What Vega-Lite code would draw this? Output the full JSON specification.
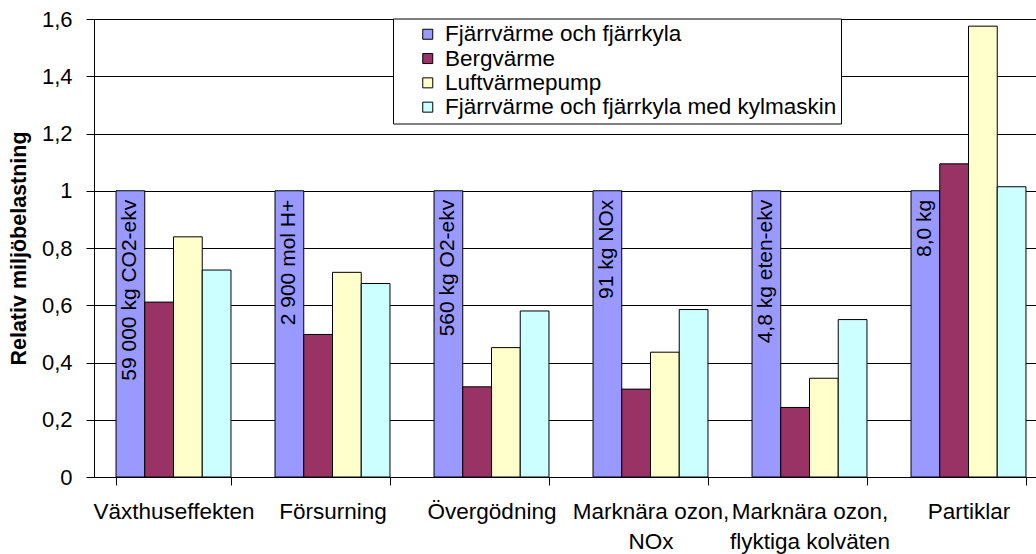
{
  "$schema": "https://vega.github.io/schema/vega-lite/v6.json",
  "width": 942,
  "height": 458,
  "autosize": {"type": "none"},
  "padding": {"left": 94, "top": 19, "right": 0, "bottom": 77},
  "background": "white",
  "config": {"view": {"stroke": null}, "font": "Liberation Sans"},
  "data": {
    "values": [
      {"kategori": "Växthuseffekten", "serie": "Fjärrvärme och fjärrkyla", "varde": 1.0, "etikett": "59 000 kg CO2-ekv"},
      {"kategori": "Växthuseffekten", "serie": "Bergvärme", "varde": 0.611},
      {"kategori": "Växthuseffekten", "serie": "Luftvärmepump", "varde": 0.839},
      {"kategori": "Växthuseffekten", "serie": "Fjärrvärme och fjärrkyla med kylmaskin", "varde": 0.723},
      {"kategori": "Försurning", "serie": "Fjärrvärme och fjärrkyla", "varde": 1.0, "etikett": "2 900 mol H+"},
      {"kategori": "Försurning", "serie": "Bergvärme", "varde": 0.498},
      {"kategori": "Försurning", "serie": "Luftvärmepump", "varde": 0.715},
      {"kategori": "Försurning", "serie": "Fjärrvärme och fjärrkyla med kylmaskin", "varde": 0.676},
      {"kategori": "Övergödning", "serie": "Fjärrvärme och fjärrkyla", "varde": 1.0, "etikett": "560 kg O2-ekv"},
      {"kategori": "Övergödning", "serie": "Bergvärme", "varde": 0.315},
      {"kategori": "Övergödning", "serie": "Luftvärmepump", "varde": 0.452},
      {"kategori": "Övergödning", "serie": "Fjärrvärme och fjärrkyla med kylmaskin", "varde": 0.58},
      {"kategori": "Marknära ozon,\nNOx", "serie": "Fjärrvärme och fjärrkyla", "varde": 1.0, "etikett": "91 kg NOx"},
      {"kategori": "Marknära ozon,\nNOx", "serie": "Bergvärme", "varde": 0.307},
      {"kategori": "Marknära ozon,\nNOx", "serie": "Luftvärmepump", "varde": 0.436},
      {"kategori": "Marknära ozon,\nNOx", "serie": "Fjärrvärme och fjärrkyla med kylmaskin", "varde": 0.585},
      {"kategori": "Marknära ozon,\nflyktiga kolväten", "serie": "Fjärrvärme och fjärrkyla", "varde": 1.0, "etikett": "4,8 kg eten-ekv"},
      {"kategori": "Marknära ozon,\nflyktiga kolväten", "serie": "Bergvärme", "varde": 0.243},
      {"kategori": "Marknära ozon,\nflyktiga kolväten", "serie": "Luftvärmepump", "varde": 0.345},
      {"kategori": "Marknära ozon,\nflyktiga kolväten", "serie": "Fjärrvärme och fjärrkyla med kylmaskin", "varde": 0.55},
      {"kategori": "Partiklar", "serie": "Fjärrvärme och fjärrkyla", "varde": 1.0, "etikett": "8,0 kg"},
      {"kategori": "Partiklar", "serie": "Bergvärme", "varde": 1.094},
      {"kategori": "Partiklar", "serie": "Luftvärmepump", "varde": 1.575},
      {"kategori": "Partiklar", "serie": "Fjärrvärme och fjärrkyla med kylmaskin", "varde": 1.014}
    ]
  },
  "layer": [
    {
      "mark": {"type": "bar", "stroke": "#000", "strokeWidth": 1},
      "encoding": {
        "x": {
          "field": "kategori", "type": "nominal", "sort": null,
          "scale": {"range": [0, 954], "paddingInner": 0.277, "paddingOuter": 0.1385},
          "axis": {
            "title": null, "labelAngle": 0, "labelFontSize": 22.5, "labelColor": "#000",
            "labelPadding": 15, "tickBand": "extent", "tickSize": 8, "tickColor": "#000",
            "domainColor": "#000", "labelExpr": "split(datum.label, '\\n')", "labelLineHeight": 30,
            "labelLimit": 300
          }
        },
        "xOffset": {
          "field": "serie", "type": "nominal",
          "scale": {"domain": ["Fjärrvärme och fjärrkyla", "Bergvärme", "Luftvärmepump", "Fjärrvärme och fjärrkyla med kylmaskin"], "paddingInner": 0, "paddingOuter": 0}
        },
        "y": {
          "field": "varde", "type": "quantitative",
          "scale": {"domain": [0, 1.6], "nice": false},
          "axis": {
            "values": [0, 0.2, 0.4, 0.6, 0.8, 1, 1.2, 1.4, 1.6],
            "labelExpr": "replace(toString(datum.value), '.', ',')",
            "title": "Relativ miljöbelastning", "titleFontSize": 21.5, "titleFontWeight": "bold",
            "titleColor": "#000", "titlePadding": 11,
            "labelFontSize": 22, "labelColor": "#000", "labelPadding": 14,
            "tickSize": 8, "tickColor": "#000", "domainColor": "#000",
            "grid": true, "gridColor": "#000", "gridWidth": 1
          }
        },
        "color": {
          "field": "serie", "type": "nominal",
          "scale": {
            "domain": ["Fjärrvärme och fjärrkyla", "Bergvärme", "Luftvärmepump", "Fjärrvärme och fjärrkyla med kylmaskin"],
            "range": ["#9999FF", "#993366", "#FFFFCC", "#CCFFFF"]
          },
          "legend": {
            "orient": "none", "legendX": 299, "legendY": -0.5, "title": null, "direction": "vertical",
            "strokeColor": "#000", "fillColor": "#fff", "padding": 4.5,
            "symbolType": "square", "symbolSize": 100, "symbolStrokeColor": "#000", "symbolStrokeWidth": 1,
            "symbolOpacity": 1, "symbolOffset": 19, "labelFontSize": 22.5, "labelColor": "#000",
            "labelOffset": 6, "rowPadding": 1.3, "labelLimit": 600,
            "labelExpr": "datum.label + '\u00a0\u00a0\u00a0'"
          }
        }
      }
    },
    {
      "transform": [{"filter": "datum.etikett"}],
      "mark": {"type": "text", "angle": 270, "align": "right", "baseline": "middle", "dx": -9, "fontSize": 21, "color": "#000"},
      "encoding": {
        "x": {"field": "kategori", "type": "nominal", "sort": null},
        "xOffset": {"field": "serie", "type": "nominal"},
        "y": {"field": "varde", "type": "quantitative"},
        "text": {"field": "etikett"}
      }
    }
  ]
}
